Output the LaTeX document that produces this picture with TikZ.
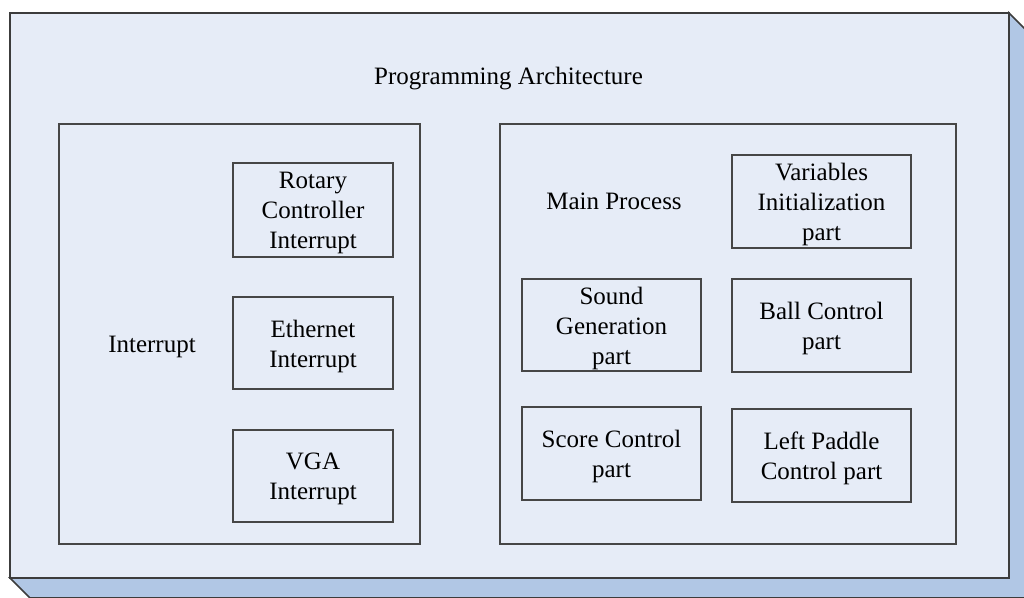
\documentclass[tikz,border=0pt]{standalone}
\usepackage{fontspec}
\setmainfont{Liberation Serif}
\begin{document}
\begin{tikzpicture}[x=1pt,y=-1pt,
  every node/.style={font=\fontsize{25}{30}\selectfont, text=black, inner sep=0pt},
  frontface/.style={fill=faceblue, draw=edgegray, line width=1.6pt},
  sideface/.style={fill=sideblue, draw=edgegray, line width=1.6pt},
  groupbox/.style={draw=boxgray, line width=1.4pt},
  partbox/.style={draw=boxgray, line width=1.3pt},
  label/.style={align=center, yshift=-3pt}
]
\definecolor{faceblue}{RGB}{230,236,247}
\definecolor{sideblue}{RGB}{177,199,229}
\definecolor{edgegray}{RGB}{60,60,60}
\definecolor{boxgray}{RGB}{70,70,70}
\useasboundingbox (0,0) rectangle (1024,597);
\fill[white] (0,0) rectangle (1024,597);

% extruded sides of the slab
\begin{scope}
\clip (0,0) rectangle (1024,597);
\draw[sideface, line join=miter] (10,578) -- (30,598) -- (1029,598) -- (1029,33) -- (1009,13) -- (1009,578) -- cycle;
\end{scope}
% front face
\draw[frontface] (10,13) rectangle (1009,578);
\node[label] (title) at (508.5,76) {Programming Architecture};

% interrupt group
\draw[groupbox] (59,124) rectangle (420,544);
\node[label] (intr) at (152,344) {Interrupt};
\node[partbox, minimum width=160pt, minimum height=94pt] (rot) at (313,210) {};
\node[label] (rotT) at (rot.center) {Rotary\\Controller\\Interrupt};
\node[partbox, minimum width=160pt, minimum height=92pt] (eth) at (313,343) {};
\node[label] (ethT) at (eth.center) {Ethernet\\Interrupt};
\node[partbox, minimum width=160pt, minimum height=92pt] (vga) at (313,476) {};
\node[label] (vgaT) at (vga.center) {VGA\\Interrupt};

% main process group
\draw[groupbox] (500,124) rectangle (956,544);
\node[label] (main) at (614,198) {Main Process};
\node[partbox, minimum width=179pt, minimum height=93pt] (vars) at (821.5,201.5) {};
\node[label] (varsT) at (vars.center) {Variables\\Initialization\\part};
\node[partbox, minimum width=179pt, minimum height=92pt] (sound) at (611.5,325) {};
\node[label] (soundT) at (sound.center) {Sound\\Generation\\part};
\node[partbox, minimum width=179pt, minimum height=93pt] (ball) at (821.5,325.5) {};
\node[label] (ballT) at (ball.center) {Ball Control\\part};
\node[partbox, minimum width=179pt, minimum height=93pt] (score) at (611.5,453.5) {};
\node[label] (scoreT) at (score.center) {Score Control\\part};
\node[partbox, minimum width=179pt, minimum height=93pt] (paddle) at (821.5,455.5) {};
\node[label] (paddleT) at (paddle.center) {Left Paddle\\Control part};
\end{tikzpicture}
\end{document}
